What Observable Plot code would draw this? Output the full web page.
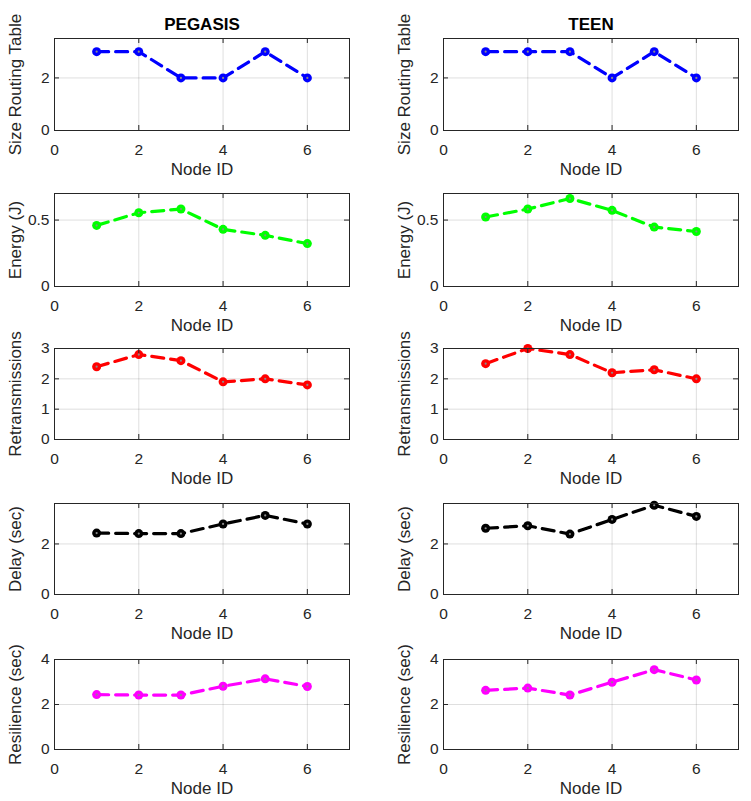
<!DOCTYPE html>
<html>
<head>
<meta charset="utf-8">
<script src="https://cdn.jsdelivr.net/npm/d3@7"></script>
<script src="https://cdn.jsdelivr.net/npm/@observablehq/plot@0.6"></script>
<style>
  html, body { margin: 0; padding: 0; background: #fff; }
  #chart { position: relative; width: 751px; height: 801px; overflow: hidden; }
  #chart svg { position: absolute; overflow: visible; }
</style>
</head>
<body>
<div id="chart"></div>
<script>
// ---- data ----
const nodes = [1, 2, 3, 4, 5, 6];
const columnTitles = ["PEGASIS", "TEEN"];
const metricLabels = ["Size Routing Table", "Energy (J)", "Retransmissions", "Delay (sec)", "Resilience (sec)"];
const xLabel = "Node ID";
const xTicks = [0, 2, 4, 6];
const xDomain = [0, 7];

const pegasisRouting = [3, 3, 2, 2, 3, 2];
const teenRouting = [3, 3, 3, 2, 3, 2];
const pegasisEnergy = [0.46, 0.555, 0.583, 0.43, 0.385, 0.323];
const teenEnergy = [0.523, 0.583, 0.662, 0.573, 0.447, 0.414];
const pegasisRetrans = [2.4, 2.8, 2.6, 1.9, 2.0, 1.8];
const teenRetrans = [2.5, 3.0, 2.8, 2.2, 2.3, 2.0];
const pegasisDelay = [2.43, 2.41, 2.41, 2.79, 3.13, 2.79];
const teenDelay = [2.62, 2.72, 2.39, 2.97, 3.53, 3.09];
const pegasisResilience = [2.44, 2.42, 2.42, 2.81, 3.14, 2.80];
const teenResilience = [2.63, 2.73, 2.42, 2.99, 3.55, 3.09];

const yDomains = [[0, 3.5], [0, 0.7], [0, 3], [0, 3.6], [0, 4]];
const yTickLists = [[0, 2], [0, 0.5], [0, 1, 2, 3], [0, 2], [0, 2, 4]];
const colors = ["#0000ff", "#00ff00", "#ff0000", "#000000", "#ff00ff"];

const series = [
  [pegasisRouting, teenRouting],
  [pegasisEnergy, teenEnergy],
  [pegasisRetrans, teenRetrans],
  [pegasisDelay, teenDelay],
  [pegasisResilience, teenResilience]
];

// ---- layout ----
const frameTops = [38, 193, 348, 503, 659];
const frameHeights = [92, 93, 91, 91, 90];
const cols = [
  {left: 0, width: 375, marginLeft: 54, marginRight: 26},
  {left: 375, width: 376, marginLeft: 68, marginRight: 13}
];
const axisColor = "#262626";
const font = "'Liberation Sans', Arial, Helvetica, sans-serif";

const chart = document.getElementById("chart");

series.forEach((pair, r) => {
  pair.forEach((vals, c) => {
    const col = cols[c];
    const mt = r === 0 ? 40 : 12;
    const mb = 52;
    const fh = frameHeights[r];
    const fw = col.width - col.marginLeft - col.marginRight;
    const data = nodes.map((n, i) => ({node: n, value: vals[i]}));
    const marks = [
      Plot.gridX(xTicks, {stroke: axisColor, strokeOpacity: 0.15, strokeWidth: 1}),
      Plot.gridY(yTickLists[r], {stroke: axisColor, strokeOpacity: 0.15, strokeWidth: 1}),
      Plot.line(data, {x: "node", y: "value", stroke: colors[r], strokeWidth: 3.2, strokeDasharray: "12,7"}),
      Plot.dot(data, {x: "node", y: "value", r: 4.5, fill: colors[r], stroke: "none"}),
      Plot.dot(data, {x: "node", y: "value", r: 1.1, fill: "#8a8a8a", stroke: "none"}),
      // inward ticks (bottom/top, left/right)
      Plot.tickX(xTicks, {x: d => d, insetTop: fh - 5, stroke: axisColor}),
      Plot.tickX(xTicks, {x: d => d, insetBottom: fh - 5, stroke: axisColor}),
      Plot.tickY(yTickLists[r], {y: d => d, insetRight: fw - 5, stroke: axisColor}),
      Plot.tickY(yTickLists[r], {y: d => d, insetLeft: fw - 5, stroke: axisColor}),
      Plot.frame({stroke: axisColor, strokeWidth: 1}),
      Plot.axisX(xTicks, {tickSize: 0, tickPadding: 13, fontSize: 15.5, label: null, fill: axisColor}),
      Plot.axisY(yTickLists[r], {tickSize: 0, tickPadding: 5, fontSize: 15.5, label: null, fill: axisColor, tickFormat: d3.format("")}),
      Plot.text([xLabel], {frameAnchor: "bottom", dy: 39, fontSize: 17, lineAnchor: "middle", fill: axisColor}),
      Plot.text([metricLabels[r]], {frameAnchor: "left", textAnchor: "middle", dx: -38.5, rotate: -90, fontSize: 17, lineAnchor: "middle", fill: axisColor})
    ];
    if (r === 0) {
      marks.push(Plot.text([columnTitles[c]], {frameAnchor: "top", dy: -14, fontSize: 17, fontWeight: "bold", lineAnchor: "middle", fill: "#000"}));
    }
    const svg = Plot.plot({
      width: col.width,
      height: mt + fh + mb,
      marginTop: mt,
      marginBottom: mb,
      marginLeft: col.marginLeft,
      marginRight: col.marginRight,
      style: {fontFamily: font, fontSize: "15px", color: axisColor, background: "transparent"},
      x: {domain: xDomain, axis: null},
      y: {domain: yDomains[r], axis: null},
      marks
    });
    svg.style.left = col.left + "px";
    svg.style.top = (frameTops[r] - mt) + "px";
    chart.appendChild(svg);
  });
});
</script>
</body>
</html>
